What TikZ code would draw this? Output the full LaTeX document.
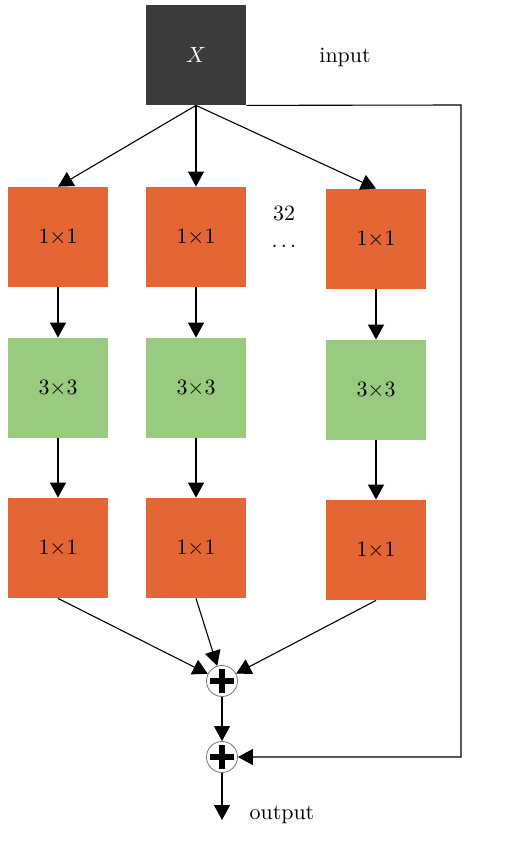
\documentclass[tikz,border=0pt,11pt]{standalone}
\usepackage{xcolor}
\usetikzlibrary{arrows.meta,positioning}
\definecolor{convorange}{RGB}{227,102,52}
\definecolor{convgreen}{RGB}{152,203,127}
\definecolor{inputgray}{RGB}{59,59,59}
\newcommand{\kk}[1]{$#1{\times}#1$}

\begin{document}
\begin{tikzpicture}[
      x=0.5pt, y=-0.5pt,
      blk/.style={minimum size=50pt, inner sep=0pt, align=center},
      onebox/.style={blk, fill=convorange},
      threebox/.style={blk, fill=convgreen},
      sumnode/.style={circle, draw=black!55, thin, minimum size=15.5pt, inner sep=0pt,
        path picture={\draw[black, line width=2.6pt] ([xshift=-6pt]path picture bounding box.center) -- ++(12pt,0);
                      \draw[black, line width=2.6pt] ([yshift=-6pt]path picture bounding box.center) -- ++(0,12pt);}},
      arr/.style={-{Triangle[length=7.5pt,width=8pt]}, line width=0.55pt}
    ]
      \useasboundingbox (0,0) rectangle (520,845);
      \node[blk, fill=inputgray, text=white] (x) at (196,55) {$X$};
      \node (inlabel) at (345,57) {input};

      % first column
      \node[onebox] (a1) at (58,237) {\kk{1}};
      \node[threebox] (a2) at (58,388) {\kk{3}};
      \node[onebox] (a3) at (58,548) {\kk{1}};
      % second column
      \node[onebox] (b1) at (196,237) {\kk{1}};
      \node[threebox] (b2) at (196,388) {\kk{3}};
      \node[onebox] (b3) at (196,548) {\kk{1}};
      % last column
      \node[onebox] (c1) at (376,239) {\kk{1}};
      \node[threebox] (c2) at (376,390) {\kk{3}};
      \node[onebox] (c3) at (376,550) {\kk{1}};

      \node[align=center, inner sep=0pt] (count) at (284,227) {32\\.\kern1.6pt.\kern1.6pt.};

      \node[sumnode] (s1) at (222,681) {};
      \node[sumnode] (s2) at (222,757) {};
      \coordinate (out) at (222,820);
      \node (outlabel) at (282,815) {output};
      \coordinate (c1c) at (461,105);
      \coordinate (c2c) at (461,757);

      \draw[arr] (x.south) -- (a1.north);
      \draw[arr] (x.south) -- (b1.north);
      \draw[arr] (x.south) -- (c1.north);
      \foreach \col in {a,b,c}{
        \draw[arr] (\col1) -- (\col2);
        \draw[arr] (\col2) -- (\col3);
        \draw[arr] (\col3.south) -- (s1);
      }
      \draw[arr] (s1) -- (s2);
      \draw[arr] (s2) -- (out);
      \draw[arr] (x.south east) -- (c1c) -- (c2c) -- (s2);
    \end{tikzpicture}
\end{document}
